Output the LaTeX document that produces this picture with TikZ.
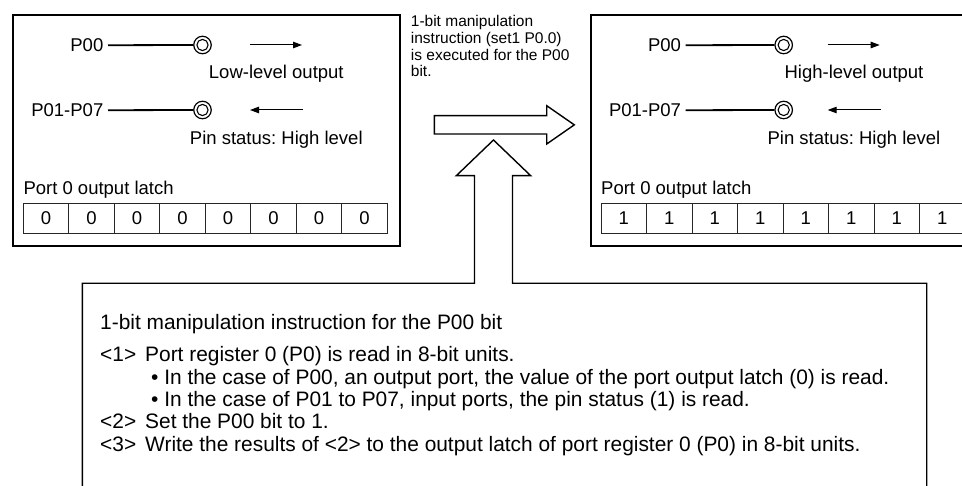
\documentclass[tikz,border=0pt]{standalone}
\usepackage{fontspec}
\setmainfont{Liberation Sans}
\usetikzlibrary{arrows.meta}
\frenchspacing
\newcommand\makepanel[5]{% #1 prefix, #2 x shift, #3 latch digit, #4 output label, #5 ring shift
\begin{scope}[shift={(#2,0)}]
  \node[frame, minimum width=386.7pt, minimum height=231.2pt, anchor=north west] (#1frame) at (12.3,14.3) {};
  \node[boxtxt, anchor=base east] (#1pa) at (103.5,51.6) {P00};
  \node[boxtxt, anchor=base east] (#1pb) at (103.5,116.6) {P01-P07};
  \node[pinring] (#1ra) at ({202.5+#5},45) {};
  \node[pinring] (#1rb) at ({202.5+#5},110) {};
  \draw[innerring] (#1ra.center) circle (5.6);
  \draw[innerring] (#1rb.center) circle (5.6);
  \draw[pinwire, shorten <=4.5pt] (#1pa.east) -- (#1ra.west);
  \draw[pinwire, shorten <=4.5pt] (#1pb.east) -- (#1rb.west);
  \coordinate (#1oa) at (250,45);
  \coordinate (#1ob) at (302,45);
  \coordinate (#1ia) at (303,110);
  \coordinate (#1ib) at (250,110);
  \draw[flow] (#1oa) -- (#1ob);
  \draw[flow] (#1ia) -- (#1ib);
  \node[boxtxt, anchor=base] (#1ol) at (276.3,78.6) {#4};
  \node[boxtxt, anchor=base] (#1st) at (276.3,144.6) {Pin status: High level};
  \node[boxtxt, anchor=base west] (#1lt) at (23.3,194.6) {Port 0 output latch};
  \foreach \k in {0,...,7}
    \node[cell] (#1c\k) at ({23.3+45.5*(\k+0.5)},218.5) {#3};
\end{scope}}
\begin{document}
\begin{tikzpicture}[x=1pt,y=-1pt,
  frame/.style={draw, line width=1.5pt, inner sep=0pt},
  boxtxt/.style={font=\fontsize{18.5}{22}\selectfont, inner sep=0pt},
  toptxt/.style={font=\fontsize{15.5}{18}\selectfont, inner sep=0pt, anchor=base west},
  bottxt/.style={font=\fontsize{20.9}{24}\selectfont, inner sep=0pt, anchor=base west},
  cell/.style={draw=black!85, line width=1pt, minimum width=45.5pt, minimum height=29.6pt, inner sep=0pt, font=\fontsize{18.5}{22}\selectfont},
  pinring/.style={circle, draw, line width=1.2pt, minimum size=17.5pt, inner sep=0pt},
  innerring/.style={line width=1.1pt},
  pinwire/.style={line width=1.8pt},
  flow/.style={line width=1pt, -{Triangle[length=9pt,width=6.5pt]}},
  bigarrow/.style={line width=1.4pt, line join=miter}
]
\useasboundingbox (0,0) rectangle (962,486);
\clip (0,0) rectangle (962,486);
\fill[white] (0,0) rectangle (962,486);

\makepanel{L}{0}{0}{Low-level output}{0}
\makepanel{R}{577.7}{1}{High-level output}{3.5}

% caption of the transition
\node[toptxt] (ins1) at (410.7,26.5) {1-bit manipulation};
\node[toptxt] (ins2) at (410.7,43.3) {instruction (set1 P0.0)};
\node[toptxt] (ins3) at (410.7,60.1) {is executed for the P00};
\node[toptxt] (ins4) at (410.7,76.9) {bit.};

% horizontal block arrow
\draw[bigarrow] (434.3,115.7) -- (546.7,115.7) -- (546.7,105.7) -- (574.3,124.85)
  -- (546.7,144) -- (546.7,134) -- (434.3,134) -- cycle;

% bottom box merged with the vertical block arrow
\draw[bigarrow] (82.3,500) -- (82.3,283.3) -- (474.5,283.3) -- (474.5,175.7)
  -- (456.3,175.7) -- (493.5,140) -- (530.7,175.7) -- (512.5,175.7)
  -- (512.5,283.3) -- (926.7,283.3) -- (926.7,500);

% bottom box text
\node[bottxt] (t0) at (100,329.4) {1-bit manipulation instruction for the P00 bit};
\node[bottxt] (n1) at (100,361.4) {<1>};
\node[bottxt] (t1) at (145,361.4) {Port register 0 (P0) is read in 8-bit units.};
\node[bottxt] (b1) at (151,384.4) {• In the case of P00, an output port, the value of the port output latch (0) is read.};
\node[bottxt] (b2) at (151,406.4) {• In the case of P01 to P07, input ports, the pin status (1) is read.};
\node[bottxt] (n2) at (100,428.4) {<2>};
\node[bottxt] (t2) at (145,428.4) {Set the P00 bit to 1.};
\node[bottxt] (n3) at (100,451.4) {<3>};
\node[bottxt] (t3) at (145,451.4) {Write the results of <2> to the output latch of port register 0 (P0) in 8-bit units.};
\end{tikzpicture}
\end{document}
